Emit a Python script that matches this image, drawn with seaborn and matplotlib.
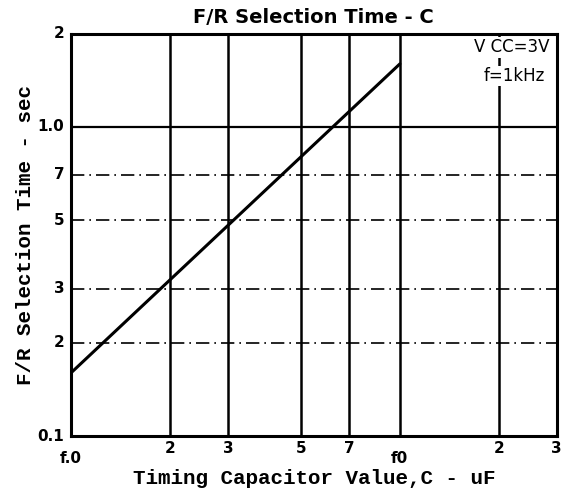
import seaborn as sns
import matplotlib.pyplot as plt
import pandas as pd
import numpy as np

# data
cap_uF = [1.0, 10.0]
sel_time_s = [0.16, 1.6]

x_grid = [2, 3, 5, 7, 10, 20]
y_grid = [0.2, 0.3, 0.5, 0.7]
x_tick_vals = [1, 2, 3, 5, 7, 10, 20, 30]
x_tick_text = ["f.0", "2", "3", "5", "7", "f0", "2", "3"]
y_tick_vals = [0.1, 0.2, 0.3, 0.5, 0.7, 1.0, 2.0]
y_tick_text = ["0.1", "2", "3", "5", "7", "1.0", "2"]

sns.set_style("white")
plt.rcParams['font.family'] = ['DejaVu Sans']
plt.rcParams['text.color'] = 'black'
plt.rcParams['axes.labelcolor'] = 'black'

fig = plt.figure(figsize=(5.63, 4.97), dpi=100)
ax = fig.add_axes([0.126, 0.1227, 0.863, 0.809])

df = pd.DataFrame({"C": cap_uF, "t": sel_time_s})
sns.lineplot(data=df, x="C", y="t", ax=ax, color="black", linewidth=2.2)

ax.set_xscale("log")
ax.set_yscale("log")
ax.set_xlim(1, 30)
ax.set_ylim(0.1, 2)

for xv in x_grid:
    ax.axvline(xv, color="black", linewidth=1.8, zorder=1)
for yv in y_grid:
    ax.axhline(yv, color="black", linewidth=1.2, linestyle=(0, (8, 3, 1, 3)), zorder=1)
ax.axhline(1.0, color="black", linewidth=1.6, zorder=1)

for s in ax.spines.values():
    s.set_linewidth(2.2)
    s.set_color("black")

ax.set_xticks([])
ax.set_yticks([])
ax.set_xticks([], minor=True)
ax.set_yticks([], minor=True)

xtr = ax.get_xaxis_transform()
for v, t in zip(x_tick_vals, x_tick_text):
    dy = -0.03
    if t in ("f.0", "f0"):
        dy = -0.057
    ax.text(v, dy, t, transform=xtr, ha="center", va="center",
            fontsize=11, fontweight="bold")

ytr = ax.get_yaxis_transform()
for v, t in zip(y_tick_vals, y_tick_text):
    ax.text(-0.014, v, t, transform=ytr, ha="right", va="center",
            fontsize=11, fontweight="bold")

ax.set_xlabel("Timing Capacitor Value,C - uF", family="Liberation Mono",
              fontweight="bold", fontsize=15, labelpad=24)
ax.set_ylabel("F/R Selection Time - sec", family="Liberation Mono",
              fontweight="bold", fontsize=15, labelpad=26)
ax.set_title("F/R Selection Time - C", fontsize=14, fontweight="semibold", pad=8)

ax.text(0.985, 0.967, "V CC=3V", transform=ax.transAxes, ha="right", va="center",
        fontsize=12, bbox=dict(facecolor="white", edgecolor="none", pad=1))
ax.text(0.975, 0.895, "f=1kHz", transform=ax.transAxes, ha="right", va="center",
        fontsize=12, bbox=dict(facecolor="white", edgecolor="none", pad=1))

fig.savefig("out.png", dpi=100)
